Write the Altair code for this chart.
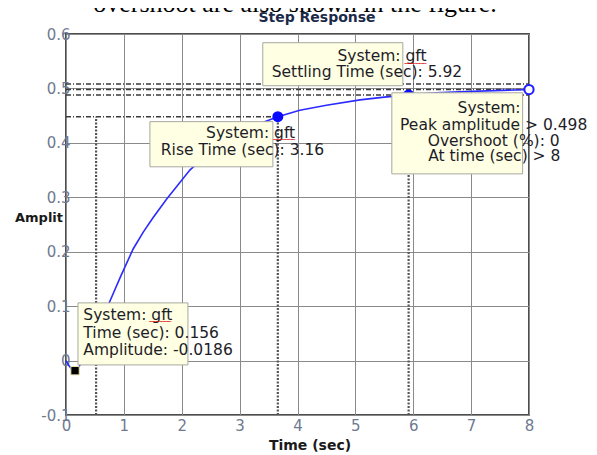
import altair as alt
import pandas as pd

# ---- step response curve ----
time_s = [0, 0.05, 0.1, 0.156, 0.22, 0.3, 0.4, 0.52, 0.73, 0.95, 1.16, 1.335, 1.5,
          1.74, 2.14, 2.5, 2.9, 3.2, 3.41, 3.66, 4.04, 4.5, 5.08, 5.5, 5.92, 6.4,
          6.8, 7.4, 8.0]
amplitude = [0, -0.009, -0.016, -0.0186, -0.012, 0.002, 0.024, 0.0498, 0.102, 0.156,
             0.205, 0.236, 0.262, 0.297, 0.35, 0.385, 0.413, 0.428, 0.438, 0.448,
             0.460, 0.469, 0.479, 0.484, 0.488, 0.492, 0.494, 0.496, 0.498]

# ---- characteristic values ----
rise_t10, rise_t90, rise_y90 = 0.52, 3.66, 0.448
settle_t, band_hi, band_lo = 5.92, 0.508, 0.488
peak_t, peak_y = 8.0, 0.498
tip_t, tip_y = 0.156, -0.0186

x_ticks = [0, 1, 2, 3, 4, 5, 6, 7, 8]
y_ticks = [-0.1, 0, 0.1, 0.2, 0.3, 0.4, 0.5, 0.6]

# data-tip boxes (in data units): x, x2, y, y2
box_x = [3.40, 1.45, 5.63, 0.207]
box_x2 = [5.82, 3.575, 7.89, 2.107]
box_y = [0.584, 0.439, 0.492, 0.106]
box_y2 = [0.505, 0.356, 0.343, -0.008]

# centred data-tip texts
ctext = ["System: gft", "Settling Time (sec): 5.92",
         "System: gft", "Rise Time (sec): 3.16",
         "System:", "Peak amplitude > 0.498", "Overshoot (%): 0", "At time (sec) > 8"]
ctext_x = [5.46, 5.20, 3.19, 3.05, 7.31, 7.39, 7.39, 7.40]
ctext_y = [0.559, 0.531, 0.418, 0.387, 0.464, 0.433, 0.404, 0.375]

# left-aligned data-tip texts
ltext = ["System: gft", "Time (sec): 0.156", "Amplitude: -0.0186"]
ltext_x = [0.30, 0.30, 0.30]
ltext_y = [0.084, 0.051, 0.0195]

# spell-check squiggles under the word "gft"
squig_x = [6.04, 3.77, 1.63]
squig_y = [0.553, 0.412, 0.078]

W, H = 463, 381
XD, YD = [0, 8], [-0.1, 0.6]

curve = pd.DataFrame({"t": time_s, "a": amplitude})
hlines = pd.DataFrame({"x": [0, 0, 0, 0], "x2": [8, 8, 8, rise_t90],
                       "y": [band_hi, peak_y, band_lo, rise_y90]})
vlines = pd.DataFrame({"x": [rise_t10, rise_t90, settle_t],
                       "y": [-0.1, -0.1, -0.1], "y2": [rise_y90, rise_y90, band_lo]})
dots = pd.DataFrame({"t": [rise_t90, settle_t], "a": [rise_y90, band_lo]})
peakdf = pd.DataFrame({"t": [peak_t], "a": [peak_y]})
tipdf = pd.DataFrame({"t": [tip_t], "a": [tip_y]})
boxes = pd.DataFrame({"x": box_x, "x2": box_x2, "y": box_y, "y2": box_y2})
cdf = pd.DataFrame({"x": ctext_x, "y": ctext_y, "s": ctext})
ldf = pd.DataFrame({"x": ltext_x, "y": ltext_y, "s": ltext})
sqdf = pd.DataFrame({"x": squig_x, "y": squig_y, "s": ["\ufe4f\ufe4f"] * 3})

LABEL_COLOR = "#6f7a91"
xaxis = alt.Axis(values=x_ticks, title=None, grid=True, gridColor="#8a8a8a", gridWidth=1,
                 domain=False, ticks=False, labelPadding=3, labelFont="DejaVu Sans",
                 labelFontSize=15, labelColor=LABEL_COLOR, labelFlush=False)
yaxis = alt.Axis(values=y_ticks, title=None, grid=True, gridColor="#8a8a8a", gridWidth=1,
                 domain=False, ticks=False, labelPadding=-4, labelFont="DejaVu Sans",
                 labelFontSize=15, labelColor=LABEL_COLOR, labelFlush=False,
                 labelExpr="'' + datum.value")


def X(f, **kw):
    return alt.X(f, type="quantitative", scale=alt.Scale(domain=XD, nice=False, zero=False),
                 axis=xaxis, **kw)


def Y(f, **kw):
    return alt.Y(f, type="quantitative", scale=alt.Scale(domain=YD, nice=False, zero=False),
                 axis=yaxis, **kw)


TIPFONT = 15.5

dash_h = alt.Chart(hlines).mark_rule(color="#3a3a3a", strokeWidth=1.5,
                                     strokeDash=[5, 2, 1, 2]).encode(
    x=X("x"), x2="x2", y=Y("y"))
dash_v = alt.Chart(vlines).mark_rule(color="#555555", strokeWidth=2.2,
                                     strokeDash=[2, 1.5]).encode(
    x=X("x"), y=Y("y"), y2="y2")
line = alt.Chart(curve).mark_line(color="#2b2bff", strokeWidth=1.6).encode(
    x=X("t"), y=Y("a"), order="t:Q")
dot_layer = alt.Chart(dots).mark_point(shape="circle", filled=True, size=120, color="#0a0aff",
                                       opacity=1).encode(x=X("t"), y=Y("a"))
peak_layer = alt.Chart(peakdf).mark_point(shape="circle", filled=True, size=85, fill="white",
                                          stroke="#1f1fff", strokeWidth=2, opacity=1).encode(
    x=X("t"), y=Y("a"))
tip_layer = alt.Chart(tipdf).mark_point(shape="square", filled=True, size=70, fill="black",
                                        stroke="#e8e2b0", strokeWidth=1, opacity=1).encode(
    x=X("t"), y=Y("a"))
box_layer = alt.Chart(boxes).mark_rect(fill="#ffffe3", stroke="#a8a8a0", strokeWidth=1).encode(
    x=X("x"), x2="x2", y=Y("y"), y2="y2")
ctext_layer = alt.Chart(cdf).mark_text(font="DejaVu Sans", fontSize=TIPFONT, color="#1d1d28",
                                       align="center", baseline="middle").encode(
    x=X("x"), y=Y("y"), text="s:N")
ltext_layer = alt.Chart(ldf).mark_text(font="DejaVu Sans", fontSize=TIPFONT, color="#1d1d28",
                                       align="left", baseline="middle").encode(
    x=X("x"), y=Y("y"), text="s:N")
squig_layer = alt.Chart(sqdf).mark_text(font="Noto Sans CJK SC", fontSize=11, color="#e01010",
                                        align="center", baseline="middle").encode(
    x=X("x"), y=Y("y"), text="s:N")

title_layer = alt.Chart(pd.DataFrame({"s": ["Step Response"]})).mark_text(
    font="DejaVu Sans", fontSize=14, fontWeight="bold", color="#1c2a4a",
    align="center", baseline="alphabetic").encode(
    x=alt.value(251), y=alt.value(-12), text="s:N")
xtitle_layer = alt.Chart(pd.DataFrame({"s": ["Time (sec)"]})).mark_text(
    font="DejaVu Sans", fontSize=14, fontWeight="bold", color="#1a1a1a",
    align="center", baseline="middle").encode(
    x=alt.value(244), y=alt.value(412), text="s:N")
ytitle_layer = alt.Chart(pd.DataFrame({"s": ["Amplitude"]})).mark_text(
    font="DejaVu Sans", fontSize=13, fontWeight="bold", color="#1a1a1a",
    align="left", baseline="middle", limit=50, ellipsis="\u200b").encode(
    x=alt.value(-51), y=alt.value(184), text="s:N")
doc_layer = alt.Chart(pd.DataFrame({"s": ["overshoot are also shown in the figure."]})).mark_text(
    font="Liberation Serif", fontSize=26, color="black",
    align="center", baseline="alphabetic").encode(
    x=alt.value(229), y=alt.value(-22), text="s:N")

chart = alt.layer(
    dash_h, dash_v, line, dot_layer, peak_layer, tip_layer, box_layer,
    ctext_layer, ltext_layer, squig_layer, title_layer, xtitle_layer, ytitle_layer, doc_layer
).properties(
    width=W, height=H,
    autosize=alt.AutoSizeParams(type="none"),
    padding={"left": 58, "top": 26, "right": 60, "bottom": 40},
    background="white",
).configure_view(stroke="#4d4d4d", strokeWidth=2)

chart.save("out.html", embed_options={"renderer": "svg", "actions": False})
